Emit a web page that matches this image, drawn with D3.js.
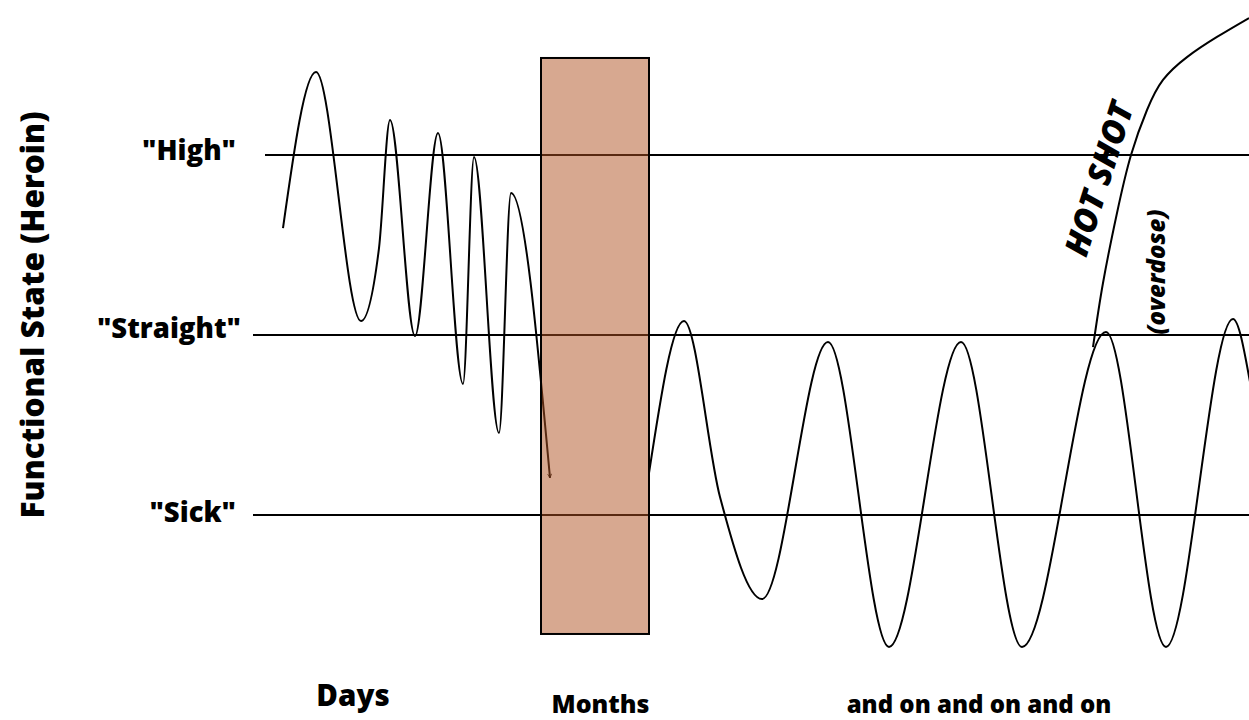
<!DOCTYPE html>
<html>
<head>
<meta charset="utf-8">
<script src="https://cdn.jsdelivr.net/npm/d3@7"></script>
<style>
  html, body { margin: 0; padding: 0; background: #fff; }
  svg { display: block; }
  text { font-family: "Open Sans", "Noto Sans", sans-serif; font-weight: 800; fill: #000; }
</style>
</head>
<body>
<svg id="chart" width="1249" height="720"></svg>
<script>
// ---- data (time t in 0..100, functional state v: High=1, Straight=0, Sick=-1) ----
const levelLabels = ['"High"', '"Straight"', '"Sick"'];
const levelValues = [1, 0, -1];

const daysT = [3.3, 6.6, 11.1, 12.9, 14.0, 16.5, 18.8, 21.3, 22.4, 24.9, 26.1, 30.0];
const daysV = [0.594, 1.461, 0.078, 0.483, 1.194, -0.006, 1.122, -0.272, 0.989, -0.544, 0.789, -0.794];

const monthsT = [39.9, 43.4, 47.0, 51.2, 57.8, 63.9, 71.1, 77.2, 85.6, 91.6, 98.3, 100];
const monthsV = [-0.767, 0.078, -0.9, -1.467, -0.039, -1.733, -0.039, -1.733, 0.017, -1.733, 0.089, -0.261];

const hotShotT = [84.3, 85.3, 86.7, 88.1, 89.7, 91.3, 93.7, 96.7, 99.9];
const hotShotV = [-0.067, 0.289, 0.678, 1.0, 1.25, 1.417, 1.544, 1.656, 1.761];

const gapBand = { t0: 29.1, t1: 39.9, v0: 1.539, v1: -1.661 }; // the "Months" block
const phaseLabels = ["Days", "Months", "and on and on and on"];
const phaseT = [10.3, 35.05, 72.9];
const yTitle = "Functional State (Heroin)";

// ---- scales ----
const W = 1249, H = 720;
const x = d3.scaleLinear().domain([0, 100]).range([250, 1250]);
const y = d3.scaleLinear().domain([-1, 1]).range([515, 155]);

const svg = d3.select("#chart");

// level lines
const lineStart = [265, 253, 253];
svg.append("g").selectAll("line").data(levelValues).join("line")
  .attr("x1", (d, i) => lineStart[i]).attr("x2", W)
  .attr("y1", d => y(d)).attr("y2", d => y(d))
  .attr("stroke", "#000").attr("stroke-width", 2);

// level labels
const labelRight = [236, 241, 236];
const labelDy = [5, 3, 7];
svg.append("g").selectAll("text").data(levelValues).join("text")
  .attr("x", (d, i) => labelRight[i]).attr("y", (d, i) => y(d) + labelDy[i])
  .attr("text-anchor", "end").attr("font-size", 27.5)
  .text((d, i) => levelLabels[i]);

// y title
svg.append("text")
  .attr("transform", `translate(44,${y(0) - 20}) rotate(-90)`)
  .attr("text-anchor", "middle").attr("font-size", 31.5)
  .text(yTitle);

// arrow marker
const defs = svg.append("defs");
defs.append("marker").attr("id", "arr").attr("viewBox", "0 0 10 10")
  .attr("refX", 9).attr("refY", 5).attr("markerWidth", 5).attr("markerHeight", 5)
  .attr("orient", "auto").attr("markerUnits", "userSpaceOnUse")
  .append("path").attr("d", "M1,1 L9,5 L1,9").attr("fill", "none")
  .attr("stroke", "#000").attr("stroke-width", 1.5);

const zip = (a, b) => a.map((d, i) => [d, b[i]]);
const waveLine = d3.line().x(d => x(d[0])).y(d => y(d[1])).curve(d3.curveMonotoneX);
const odLine = d3.line().x(d => x(d[0])).y(d => y(d[1])).curve(d3.curveNatural);

svg.append("path").datum(zip(daysT, daysV)).attr("d", waveLine)
  .attr("fill", "none").attr("stroke", "#000").attr("stroke-width", 2)
  .attr("marker-end", "url(#arr)");
svg.append("path").datum(zip(monthsT, monthsV)).attr("d", waveLine)
  .attr("fill", "none").attr("stroke", "#000").attr("stroke-width", 2);
svg.append("path").datum(zip(hotShotT, hotShotV)).attr("d", odLine)
  .attr("fill", "none").attr("stroke", "#000").attr("stroke-width", 2);

// months block (semi-transparent over the lines)
svg.append("rect")
  .attr("x", x(gapBand.t0)).attr("y", y(gapBand.v0))
  .attr("width", x(gapBand.t1) - x(gapBand.t0))
  .attr("height", y(gapBand.v1) - y(gapBand.v0))
  .attr("fill", "#af5121").attr("fill-opacity", 0.5)
  .attr("stroke", "#000").attr("stroke-width", 2);

// phase labels
const phaseSize = [29.5, 25, 24];
const phaseY = [706, 713, 713];
svg.append("g").selectAll("text").data(phaseLabels).join("text")
  .attr("x", (d, i) => x(phaseT[i])).attr("y", (d, i) => phaseY[i])
  .attr("text-anchor", "middle").attr("font-size", (d, i) => phaseSize[i])
  .text(d => d);

// annotations
svg.append("text")
  .attr("transform", `translate(${x(84.9)},${y(0.867)}) rotate(-72.5)`)
  .attr("dy", "0.35em")
  .attr("text-anchor", "middle").attr("font-size", 33).attr("font-style", "italic")
  .text("HOT SHOT");
svg.append("text")
  .attr("transform", `translate(${x(91.5)},${y(0.35)}) rotate(-90)`)
  .attr("text-anchor", "middle").attr("font-size", 24).attr("font-style", "italic")
  .text("(overdose)");
</script>
</body>
</html>
